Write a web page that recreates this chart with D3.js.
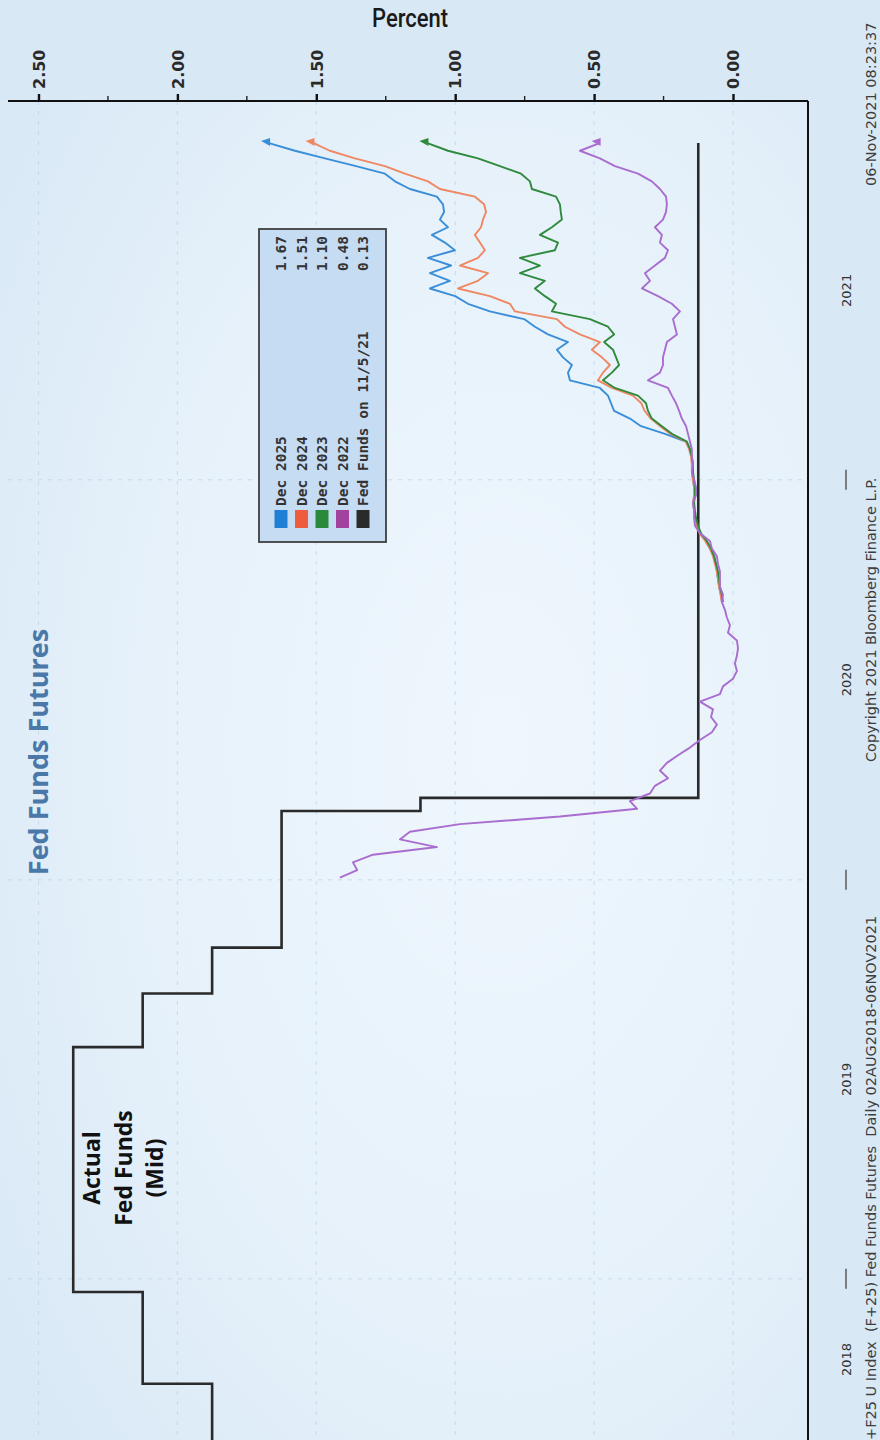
<!DOCTYPE html>
<html>
<head>
<meta charset="utf-8">
<script src="https://cdn.jsdelivr.net/npm/d3@7"></script>
<style>
  html, body { margin: 0; padding: 0; background: #d8e8f5; }
  svg { display: block; }
</style>
</head>
<body>
<svg id="chart" width="880" height="1440"></svg>
<script>
// ---------- data ----------
// Weekly observations of the futures-implied rate, first week = futuresStart
const futuresStart = "2020-01-03";

// Dec 2022 contract, from week 0
const dec2022Values = [
  1.415, 1.353, 1.368, 1.296, 1.066, 1.199, 1.163, 0.983, 0.623, 0.345,
  0.371, 0.299, 0.281, 0.234, 0.263, 0.238, 0.198, 0.155, 0.119, 0.076,
  0.058, 0.079, 0.072, 0.119, 0.047, 0.036, 0.000, -0.014, -0.007, -0.014,
  -0.018, -0.014, 0.018, 0.011, 0.022, 0.029, 0.040, 0.036, 0.047, 0.047,
  0.047, 0.054, 0.058, 0.076, 0.083, 0.119, 0.137, 0.140, 0.140, 0.144,
  0.133, 0.133, 0.140, 0.148, 0.144, 0.148, 0.148, 0.155, 0.162, 0.169,
  0.184, 0.194, 0.205, 0.220, 0.234, 0.306, 0.263, 0.252, 0.252, 0.245,
  0.238, 0.202, 0.209, 0.216, 0.191, 0.220, 0.270, 0.328, 0.299, 0.317,
  0.281, 0.245, 0.234, 0.263, 0.256, 0.281, 0.252, 0.241, 0.238, 0.241,
  0.263, 0.292, 0.342, 0.425, 0.479, 0.551, 0.480
];

// Later contracts start at week 36
const laterStartWeek = 36;

const dec2023Values = [
  0.036, 0.040, 0.047, 0.050, 0.054, 0.061, 0.068, 0.079, 0.094, 0.115,
  0.126, 0.133, 0.137, 0.140, 0.137, 0.137, 0.140, 0.144, 0.144, 0.148,
  0.155, 0.166, 0.220, 0.256, 0.292, 0.306, 0.313, 0.342, 0.425, 0.468,
  0.436, 0.410, 0.421, 0.432, 0.464, 0.428, 0.450, 0.515, 0.652, 0.637,
  0.677, 0.713, 0.677, 0.767, 0.695, 0.767, 0.641, 0.630, 0.695, 0.652,
  0.616, 0.620, 0.623, 0.637, 0.724, 0.731, 0.763, 0.839, 0.918, 1.026,
  1.100
];

const dec2024Values = [
  0.040, 0.045, 0.050, 0.054, 0.058, 0.065, 0.072, 0.083, 0.100, 0.120,
  0.130, 0.137, 0.140, 0.144, 0.140, 0.140, 0.144, 0.148, 0.148, 0.151,
  0.158, 0.170, 0.225, 0.262, 0.296, 0.318, 0.330, 0.360, 0.436, 0.486,
  0.468, 0.443, 0.472, 0.508, 0.479, 0.551, 0.605, 0.634, 0.785, 0.803,
  0.875, 0.990, 0.918, 0.882, 0.983, 0.918, 0.893, 0.911, 0.929, 0.907,
  0.900, 0.889, 0.896, 0.929, 1.055, 1.098, 1.181, 1.253, 1.361, 1.451,
  1.510
];

const dec2025Values = [
  0.040, 0.043, 0.050, 0.054, 0.058, 0.061, 0.068, 0.083, 0.097, 0.119,
  0.130, 0.137, 0.140, 0.144, 0.137, 0.140, 0.144, 0.148, 0.148, 0.148,
  0.155, 0.170, 0.245, 0.331, 0.371, 0.428, 0.439, 0.450, 0.479, 0.587,
  0.594, 0.580, 0.612, 0.634, 0.594, 0.666, 0.713, 0.752, 0.875, 0.954,
  1.000, 1.091, 1.019, 1.091, 1.015, 1.098, 1.001, 1.037, 1.084, 1.026,
  1.055, 1.040, 1.044, 1.066, 1.163, 1.217, 1.253, 1.357, 1.469, 1.577,
  1.670
];

// Actual fed funds target range midpoint (step changes)
const fedChangeDates = ["2018-08-02", "2018-09-27", "2018-12-20", "2019-08-01",
  "2019-09-19", "2019-10-31", "2020-03-04", "2020-03-16", "2021-11-05"];
const fedMidRates = [1.875, 2.125, 2.375, 2.125, 1.875, 1.625, 1.125, 0.125, 0.125];

// Legend
const legendNames = ["Dec 2025", "Dec 2024", "Dec 2023", "Dec 2022", "Fed Funds on 11/5/21"];
const legendValues = ["1.67", "1.51", "1.10", "0.48", "0.13"];

// Axes
const valueTicks = [2.5, 2.0, 1.5, 1.0, 0.5, 0.0];
const yearLabels = ["2018", "2019", "2020", "2021"];
const yearBoundaries = ["2019-01-01", "2020-01-01", "2021-01-01"];
const dateDomain = ["2018-08-02", "2021-11-06"];

// ---------- layout ----------
const svg = d3.select("#chart");
const W = 880, H = 1440;
const plot = { left: 8, right: 808, top: 101, bottom: 1440 };
const parse = d3.utcParse("%Y-%m-%d");

const colors = {
  dec2025: "#3a8ed8",
  dec2024: "#f08763",
  dec2023: "#2f8a3d",
  dec2022: "#a96ccf",
  fed: "#2a2a2a"
};
const swatchColors = ["#1f7fd4", "#ee5b3d", "#2a8a3b", "#a2419e", "#2a2a2a"];

// value runs right-to-left across the page, time runs bottom-to-top
const x = d3.scaleLinear().domain([0, 2.5]).range([733, 38.5]);
const y = d3.scaleUtc().domain(dateDomain.map(parse)).range([1445, 142]);

const start = parse(futuresStart);
const weekly = (vals, offset) => vals.map((v, i) => ({ date: d3.utcDay.offset(start, 7 * (offset + i)), v }));

// ---------- background ----------
const defs = svg.append("defs");
const glow = defs.append("radialGradient").attr("id", "plotGlow")
  .attr("cx", "62%").attr("cy", "48%").attr("r", "75%");
glow.append("stop").attr("offset", "0%").attr("stop-color", "#eff7fd");
glow.append("stop").attr("offset", "60%").attr("stop-color", "#e6f1fa");
glow.append("stop").attr("offset", "100%").attr("stop-color", "#d9e9f6");

defs.append("clipPath").attr("id", "plotClip").append("rect")
  .attr("x", plot.left).attr("y", plot.top)
  .attr("width", plot.right - plot.left).attr("height", plot.bottom - plot.top);

svg.append("rect").attr("width", W).attr("height", H).attr("fill", "#d8e8f5");
svg.append("rect")
  .attr("x", 0).attr("y", plot.top)
  .attr("width", plot.right).attr("height", plot.bottom - plot.top)
  .attr("fill", "url(#plotGlow)");

// faint grid
const grid = svg.append("g").attr("stroke", "#bcd2e6").attr("stroke-width", 1)
  .attr("stroke-dasharray", "4,6").attr("opacity", 0.7);
grid.selectAll("line.v").data(valueTicks).join("line")
  .attr("x1", d => x(d)).attr("x2", d => x(d))
  .attr("y1", plot.top).attr("y2", plot.bottom);
grid.selectAll("line.h").data(yearBoundaries).join("line")
  .attr("x1", plot.left).attr("x2", plot.right)
  .attr("y1", d => y(parse(d))).attr("y2", d => y(parse(d)));

// ---------- series ----------
const lineGen = d3.line().x(d => x(d.v)).y(d => y(d.date));
const layer = svg.append("g").attr("clip-path", "url(#plotClip)");

// rate holds until the next change date
const fedData = fedChangeDates.map((d, i) => ({ date: parse(d), v: fedMidRates[i] }));
layer.append("path")
  .datum(fedData)
  .attr("fill", "none")
  .attr("stroke", colors.fed)
  .attr("stroke-width", 2.6)
  .attr("d", d3.line().x(d => x(d.v)).y(d => y(d.date)).curve(d3.curveStepBefore));

const futures = [
  { key: "dec2025", data: weekly(dec2025Values, laterStartWeek) },
  { key: "dec2024", data: weekly(dec2024Values, laterStartWeek) },
  { key: "dec2023", data: weekly(dec2023Values, laterStartWeek) },
  { key: "dec2022", data: weekly(dec2022Values, 0) }
];

layer.selectAll("path.fut").data(futures).join("path")
  .attr("class", "fut")
  .attr("fill", "none")
  .attr("stroke", d => colors[d.key])
  .attr("stroke-width", 1.9)
  .attr("stroke-linejoin", "round")
  .attr("d", d => lineGen(d.data));

// last-value markers
layer.selectAll("path.mark").data(futures).join("path")
  .attr("class", "mark")
  .attr("fill", d => colors[d.key])
  .attr("d", d => {
    const last = d.data[d.data.length - 1];
    const px = x(last.v), py = y(last.date);
    return `M${px - 8},${py - 2} L${px + 1},${py - 5} L${px + 1},${py + 3} Z`;
  });

// ---------- value axis (top) ----------
const axV = d3.axisTop(x).tickValues(valueTicks).tickSize(7).tickFormat(d3.format(".2f"));
const gV = svg.append("g").attr("transform", `translate(0,${plot.top})`).call(axV);
gV.select(".domain").remove();
gV.selectAll(".tick line").attr("stroke", "#111").attr("stroke-width", 2.4);
gV.selectAll(".tick text")
  .attr("transform", "rotate(-90)")
  .attr("text-anchor", "start")
  .attr("x", 12).attr("y", 0).attr("dy", "0.36em")
  .attr("font-family", "DejaVu Sans, sans-serif")
  .attr("font-weight", 700)
  .attr("font-size", 16)
  .attr("fill", "#2a2a2a");

const minorTicks = d3.range(0.25, 2.5, 0.5);
svg.append("g").selectAll("line").data(minorTicks).join("line")
  .attr("x1", d => x(d)).attr("x2", d => x(d))
  .attr("y1", plot.top).attr("y2", plot.top - 5)
  .attr("stroke", "#222").attr("stroke-width", 1.4);

svg.append("line")
  .attr("x1", plot.left).attr("x2", plot.right)
  .attr("y1", plot.top).attr("y2", plot.top)
  .attr("stroke", "#111").attr("stroke-width", 2.2);

svg.append("text")
  .attr("x", 410).attr("y", 27)
  .attr("text-anchor", "middle")
  .attr("font-family", "Liberation Sans Narrow, Roboto, sans-serif")
  .attr("font-weight", 500)
  .attr("font-size", 26)
  .attr("textLength", 76).attr("lengthAdjust", "spacingAndGlyphs")
  .attr("fill", "#1a1a1a")
  .text("Percent");

// ---------- time axis (right) ----------
svg.append("line")
  .attr("x1", plot.right).attr("x2", plot.right)
  .attr("y1", plot.top).attr("y2", plot.bottom)
  .attr("stroke", "#111").attr("stroke-width", 2);

svg.append("g").selectAll("line").data(yearBoundaries).join("line")
  .attr("x1", 846).attr("x2", 846)
  .attr("y1", d => y(parse(d)) - 10).attr("y2", d => y(parse(d)) + 10)
  .attr("stroke", "#444").attr("stroke-width", 1.3);

const bounds = [plot.bottom, ...yearBoundaries.map(d => y(parse(d))), plot.top];
svg.append("g").selectAll("text").data(yearLabels).join("text")
  .attr("transform", (d, i) => `translate(846,${(bounds[i] + bounds[i + 1]) / 2}) rotate(-90)`)
  .attr("text-anchor", "middle")
  .attr("dominant-baseline", "central")
  .attr("font-family", "DejaVu Sans, sans-serif")
  .attr("font-size", 13)
  .attr("fill", "#333")
  .text(d => d);

// footer lines along the right edge
const footer = svg.append("g")
  .attr("font-family", "DejaVu Sans, sans-serif")
  .attr("font-size", 14.5)
  .attr("fill", "#3d3d3d")
  .attr("dominant-baseline", "central");
footer.append("text")
  .attr("transform", "translate(871,1440) rotate(-90)")
  .attr("xml:space", "preserve")
  .text("+F25 U Index  (F+25) Fed Funds Futures  Daily 02AUG2018-06NOV2021");
footer.append("text")
  .attr("transform", "translate(871,762) rotate(-90)")
  .text("Copyright 2021 Bloomberg Finance L.P.");
footer.append("text")
  .attr("transform", "translate(871,186) rotate(-90)")
  .text("06-Nov-2021 08:23:37");

// ---------- legend ----------
const lg = svg.append("g");
lg.append("rect")
  .attr("x", 259).attr("y", 229).attr("width", 127).attr("height", 313)
  .attr("fill", "#c6dcf3")
  .attr("stroke", "#3f3f3f").attr("stroke-width", 1.8);
const rowX = i => 281 + 20.5 * i;
lg.selectAll("rect.sw").data(legendNames).join("rect")
  .attr("class", "sw")
  .attr("x", (d, i) => rowX(i) - 6.5).attr("y", 510)
  .attr("width", 13).attr("height", 18)
  .attr("fill", (d, i) => swatchColors[i]);
const legendFont = g => g
  .attr("dominant-baseline", "central")
  .attr("font-family", "DejaVu Sans Mono, monospace")
  .attr("font-weight", 700)
  .attr("font-size", 14.5)
  .attr("fill", "#333");
lg.selectAll("text.nm").data(legendNames).join("text")
  .attr("class", "nm")
  .attr("transform", (d, i) => `translate(${rowX(i)},506) rotate(-90)`)
  .call(legendFont)
  .text(d => d);
lg.selectAll("text.val").data(legendValues).join("text")
  .attr("class", "val")
  .attr("transform", (d, i) => `translate(${rowX(i)},236) rotate(-90)`)
  .attr("text-anchor", "end")
  .call(legendFont)
  .text(d => d);

// ---------- annotations ----------
svg.append("text")
  .attr("transform", "translate(37,752) rotate(-90)")
  .attr("text-anchor", "middle")
  .attr("dominant-baseline", "central")
  .attr("font-family", "Open Sans, sans-serif")
  .attr("font-weight", 700)
  .attr("font-size", 27)
  .attr("fill", "#4a78a8")
  .text("Fed Funds Futures");

const note = svg.append("text")
  .attr("transform", "translate(0,1168) rotate(-90)")
  .attr("text-anchor", "middle")
  .attr("font-family", "Open Sans, sans-serif")
  .attr("font-weight", 700)
  .attr("font-size", 23)
  .attr("fill", "#111");
[["Actual", 100], ["Fed Funds", 132], ["(Mid)", 163]].forEach(([t, bx]) => {
  note.append("tspan").attr("x", 0).attr("y", bx).text(t);
});
</script>
</body>
</html>
